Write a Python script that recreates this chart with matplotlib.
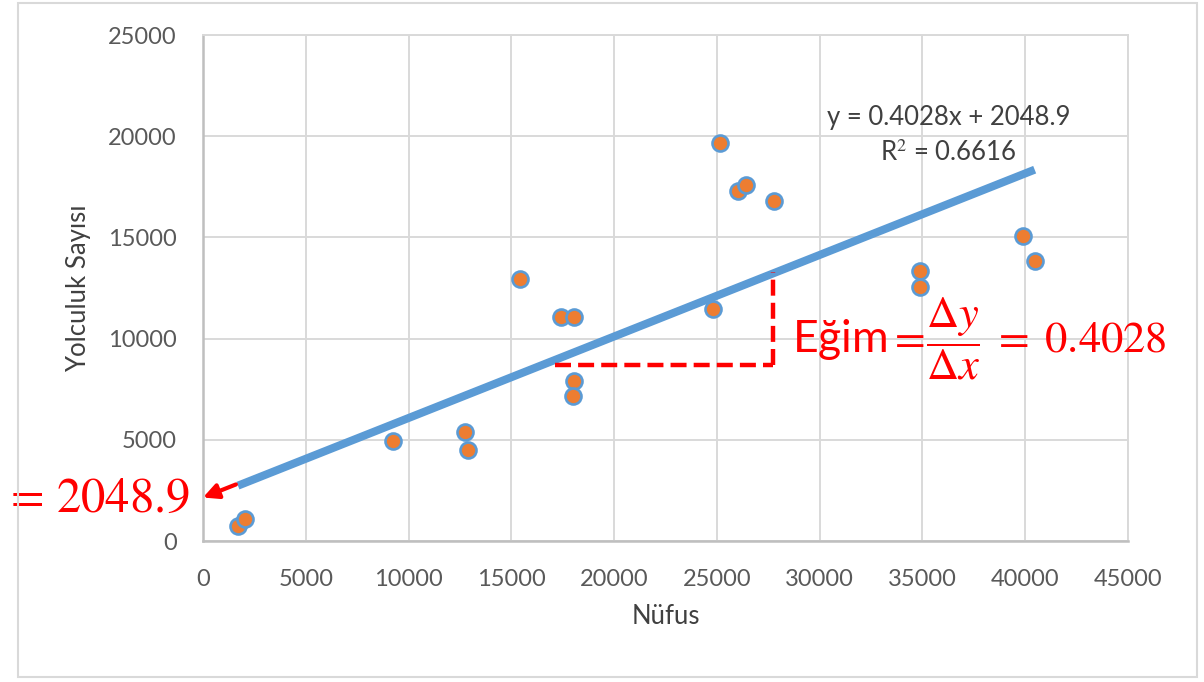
import matplotlib
matplotlib.use("Agg")
import matplotlib.pyplot as plt
from matplotlib.patches import Rectangle

# data
nufus = [1700, 2050, 9250, 12760, 12890, 15430, 17430, 18060, 18050, 18000,
         24830, 25170, 26050, 26440, 27800, 34860, 34860, 39870, 40460]
yolculuk = [740, 1070, 4940, 5370, 4500, 12940, 11070, 11070, 7900, 7160,
            11460, 19660, 17290, 17590, 16800, 13340, 12550, 15070, 13830]

egim = 0.4028
kesisim = 2048.9
r2 = 0.6616

x_ticks = list(range(0, 45001, 5000))
y_ticks = list(range(0, 25001, 5000))

# slope triangle corners
ucgen_x = [17140, 27750]
ucgen_y = [8700, 13290]

plt.rcParams['font.family'] = ['Lato', 'DejaVu Sans']
plt.rcParams['mathtext.fontset'] = 'stix'

fig = plt.figure(figsize=(12.04, 6.82), dpi=100)
ax = fig.add_axes([203 / 1204, 141 / 682, 925 / 1204, 506 / 682])

# outer chart frame
fig.patches.append(Rectangle((18 / 1204, 5 / 682), 1179 / 1204, 674 / 682,
                             transform=fig.transFigure, fill=False,
                             edgecolor='#D9D9D9', linewidth=1.5))

ax.set_xlim(0, 45000)
ax.set_ylim(0, 25000)
ax.set_xticks(x_ticks)
ax.set_yticks(y_ticks)
ax.grid(True, color='#D9D9D9', linewidth=1.4)
ax.set_axisbelow(True)
for side in ['top', 'right']:
    ax.spines[side].set_color('#D9D9D9')
    ax.spines[side].set_linewidth(1.4)
for side in ['left', 'bottom']:
    ax.spines[side].set_color('#BFBFBF')
    ax.spines[side].set_linewidth(1.8)
ax.tick_params(length=0, labelsize=17, labelcolor='#595959')
ax.tick_params(axis='x', pad=20)
ax.tick_params(axis='y', pad=19)

# trendline
x0, x1 = min(nufus), max(nufus)
ax.plot([x0, x1], [egim * x0 + kesisim, egim * x1 + kesisim],
        color='#5B9BD5', linewidth=5.8, solid_capstyle='butt', zorder=2)

ax.plot(nufus, yolculuk, linestyle='none', marker='o', markersize=11.5,
        markerfacecolor='#ED7D31', markeredgecolor='#5B9BD5',
        markeredgewidth=1.9, zorder=3)

ax.set_xlabel('Nüfus', fontsize=18.5, color='#404040', labelpad=10)
ax.set_ylabel('Yolculuk Sayısı', fontsize=18.5, color='#404040', labelpad=12)

ax.text(36270, 20900, f'y = {egim}x + {kesisim}', fontsize=18.5, color='#404040',
        ha='center', va='center')
ax.text(36250, 19170, f'R$^2$ = {r2}', fontsize=18.5, color='#404040',
        ha='center', va='center')

# slope triangle
dash = (0, (3.6, 1.6))
ax.plot(ucgen_x, [ucgen_y[0], ucgen_y[0]], color='red', linewidth=3.2,
        linestyle=dash, zorder=4)
ax.plot([ucgen_x[1], ucgen_x[1]], ucgen_y, color='red', linewidth=3.2,
        linestyle=dash, zorder=4)

ax.text(28650, 10000, 'Eğim$=\\!\\dfrac{\\Delta y}{\\Delta x}\\;=\\;0.4028$',
        fontsize=32, color='red', ha='left', va='center', clip_on=False)

# intercept arrow
ax.annotate('$=\\,2048.9$', xy=(0, kesisim), xytext=(-630, 2150),
            fontsize=35, color='red', ha='right', va='center',
            annotation_clip=False)
ax.annotate('', xy=(0, kesisim + 100), xytext=(x0 - 100, egim * (x0 - 100) + kesisim + 100),
            arrowprops=dict(arrowstyle='-|>,head_length=0.9,head_width=0.45',
                            color='red', linewidth=3, shrinkA=0, shrinkB=0),
            annotation_clip=False)

fig.savefig('out.png', dpi=100)
